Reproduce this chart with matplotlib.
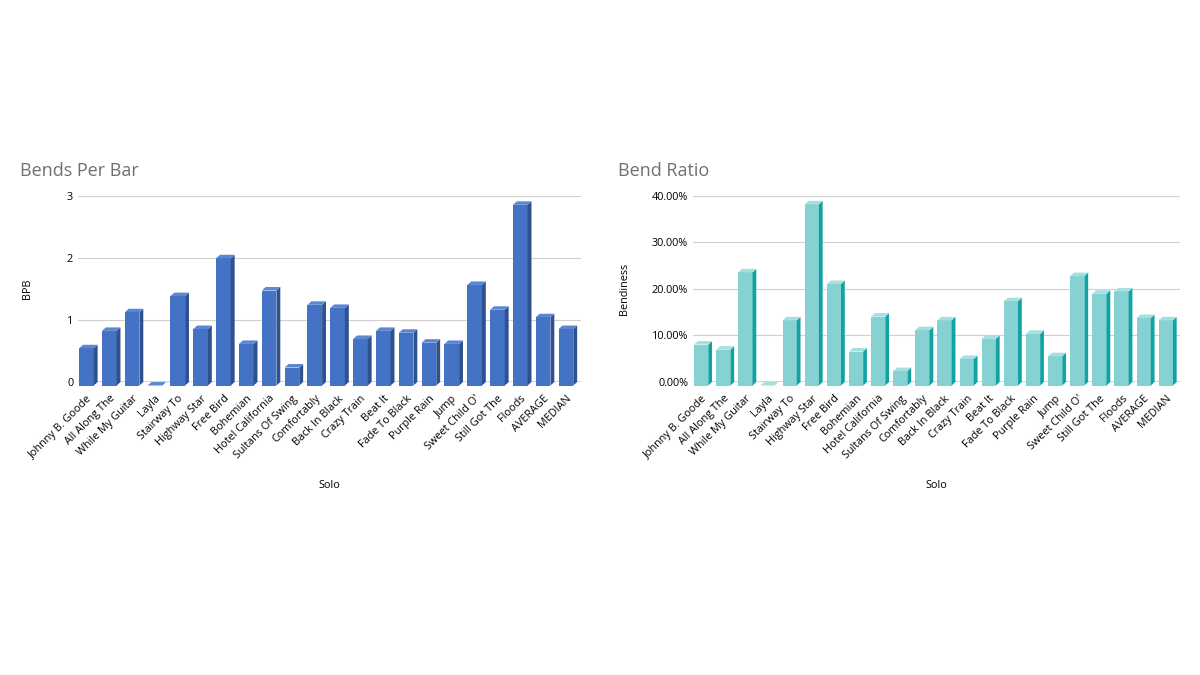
import matplotlib.pyplot as plt
from matplotlib.patches import Polygon
from matplotlib.ticker import FuncFormatter

solos = ["Johnny B. Goode", "All Along The", "While My Guitar", "Layla", "Stairway To",
         "Highway Star", "Free Bird", "Bohemian", "Hotel California", "Sultans Of Swing",
         "Comfortably", "Back In Black", "Crazy Train", "Beat It", "Fade To Black",
         "Purple Rain", "Jump", "Sweet Child O'", "Still Got The", "Floods",
         "AVERAGE", "MEDIAN"]

bpb = [0.60, 0.88, 1.18, 0.0, 1.44, 0.91, 2.05, 0.67, 1.53, 0.29, 1.30, 1.25,
       0.75, 0.88, 0.85, 0.69, 0.67, 1.62, 1.22, 2.91, 1.10, 0.91]

bend_ratio = [0.088, 0.077, 0.243, 0.0, 0.140, 0.389, 0.218, 0.073, 0.148, 0.031,
              0.119, 0.140, 0.057, 0.100, 0.181, 0.111, 0.063, 0.235, 0.197, 0.202,
              0.145, 0.140]

plt.rcParams['font.family'] = ['Open Sans', 'DejaVu Sans']

fig = plt.figure(figsize=(12, 6.75), dpi=100)


def bars3d(ax, values, front, side, top, ymax, dy):
    # fake 3d column: front face sits slightly in front of (below) the floor line
    w = 0.64
    dx = 0.17
    for i, v in enumerate(values):
        x0 = i - w / 2
        x1 = i + w / 2
        faces = [
            ([(x0, -dy), (x1, -dy), (x1, v - dy), (x0, v - dy)], front),
            ([(x1, -dy), (x1 + dx, 0), (x1 + dx, v), (x1, v - dy)], side),
            ([(x0, v - dy), (x1, v - dy), (x1 + dx, v), (x0 + dx, v)], top),
        ]
        for pts, c in faces:
            ax.add_patch(Polygon(pts, closed=True, facecolor=c, edgecolor='none',
                                 zorder=3, clip_on=False))
    ax.set_xlim(-0.37, len(values) - 0.35)
    ax.set_ylim(0, ymax)
    ax.axhline(0, color='#303030', lw=1.0, zorder=2)
    ax.grid(axis='y', color='#d0d0d0', lw=0.8, zorder=0)
    ax.set_axisbelow(True)
    for s in ax.spines.values():
        s.set_visible(False)
    ax.set_xticks(range(len(values)))
    ax.set_xticklabels(solos, rotation=45, ha='right', rotation_mode='anchor', fontsize=7.8)
    ax.tick_params(axis='both', length=0, labelsize=7.8)
    ax.tick_params(axis='x', pad=8)
    ax.set_xlabel("Solo", fontsize=7.8, labelpad=14)


ax1 = fig.add_axes([0.065, 0.434, 0.419, 0.276])
bars3d(ax1, bpb, '#4472c4', '#2f528f', '#5b86d3', 3, 0.056)
ax1.set_yticks([0, 1, 2, 3])
ax1.set_ylabel("BPB", fontsize=7.8)
ax1.yaxis.set_label_coords(-0.09, 0.5)
ax1.set_title("Bends Per Bar", loc='left', x=-0.115, fontsize=13, color='#707070', pad=14)

ax2 = fig.add_axes([0.5775, 0.434, 0.406, 0.276])
bars3d(ax2, bend_ratio, '#86d2d3', '#11a3a3', '#a6dfe0', 0.4, 0.0075)
ax2.set_yticks([0, 0.1, 0.2, 0.3, 0.4])
ax2.yaxis.set_major_formatter(FuncFormatter(lambda v, p: f"{v * 100:.2f}%"))
ax2.set_ylabel("Bendiness", fontsize=7.8)
ax2.yaxis.set_label_coords(-0.13, 0.5)
ax2.set_title("Bend Ratio", loc='left', x=-0.154, fontsize=13, color='#707070', pad=14)

fig.savefig("out.png", dpi=100)
